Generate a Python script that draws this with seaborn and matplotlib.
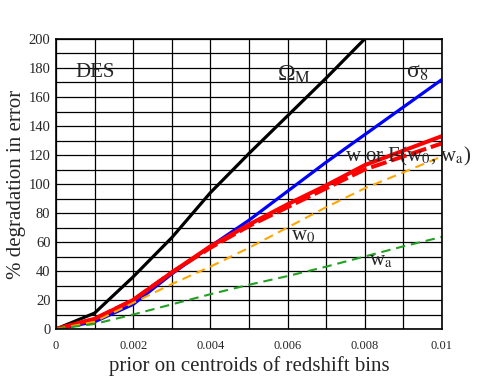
import numpy as np
import pandas as pd
import matplotlib
matplotlib.use("Agg")
import matplotlib.pyplot as plt
from matplotlib.ticker import MultipleLocator, FuncFormatter
import seaborn as sns

# prior on centroids of redshift bins
prior = [0, 0.001, 0.002, 0.003, 0.004, 0.005, 0.006, 0.007, 0.008, 0.009, 0.010]

# % degradation in error
omega_m = [0, 11, 36, 63, 94, 121, 147, 173, 200, 226, 252]
sigma_8 = [0, 5, 17, 38, 57, 75, 95, 115, 134, 153, 172]
w_pivot = [0, 7, 20, 39, 57, 72, 86, 99, 113, 123, 133]
fom = [0, 7, 20, 39, 56, 71, 84, 97, 110, 119, 128]
w_0 = [0, 5, 18, 31, 43, 56, 70, 84, 97, 108, 119]
w_a = [0, 3.5, 10, 17, 24, 30.5, 36.5, 43, 50, 57, 63.5]

sns.set_style("white")
plt.rcParams['font.family'] = ['Liberation Serif', 'DejaVu Serif']
plt.rcParams['mathtext.fontset'] = 'stix'

fig = plt.figure(figsize=(4.85, 3.88), dpi=100)
ax = fig.add_axes([0.1155, 0.152, 0.7955, 0.7475])

sns.lineplot(x=prior, y=omega_m, color='black', lw=2.3, ax=ax)
sns.lineplot(x=prior, y=sigma_8, color='blue', lw=2.3, ax=ax)
sns.lineplot(x=prior, y=w_pivot, color='red', lw=2.9, ax=ax)
sns.lineplot(x=prior, y=fom, color='red', lw=2.9, ax=ax, linestyle=(0, (4, 1.2)))
sns.lineplot(x=prior, y=w_0, color='orange', lw=1.5, ax=ax, linestyle=(0, (4.5, 2.8)))
sns.lineplot(x=prior, y=w_a, color='#22a022', lw=1.5, ax=ax, linestyle=(0, (4.5, 2.8)))

ax.set_xlim(0, 0.01)
ax.set_ylim(0, 200)
ax.xaxis.set_major_locator(MultipleLocator(0.002))
ax.xaxis.set_minor_locator(MultipleLocator(0.001))
ax.yaxis.set_major_locator(MultipleLocator(20))
ax.yaxis.set_minor_locator(MultipleLocator(10))
ax.xaxis.set_major_formatter(FuncFormatter(lambda v, p: '0' if v == 0 else ('%g' % round(v, 4))))
ax.grid(True, which='both', color='black', lw=0.9)
ax.tick_params(which='both', length=0)
ax.tick_params(axis='x', labelsize=9, pad=8)
ax.tick_params(axis='y', labelsize=10.5, pad=4)
for s in ax.spines.values():
    s.set_color('black')
    s.set_linewidth(1.2)

ax.set_xlabel('prior on centroids of redshift bins', fontsize=15, labelpad=3)
ax.set_ylabel('% degradation in error', fontsize=15, labelpad=2)

ax.text(0.0005, 177, 'DES', fontsize=15, va='center')
ax.text(0.00572, 171, r'Ω$_{\rm M}$', fontsize=17, va='baseline')
ax.text(0.00908, 173, r'σ$_8$', fontsize=17, va='baseline')
ax.text(0.0075, 119, r'w or F(w$_0$, w$_{\rm a}$)', fontsize=15, va='center')
ax.text(0.0061, 64, r'w$_0$', fontsize=15, va='center')
ax.text(0.0081, 47, r'w$_{\rm a}$', fontsize=15, va='center')

plt.savefig('out.png', dpi=100)
plt.close()
